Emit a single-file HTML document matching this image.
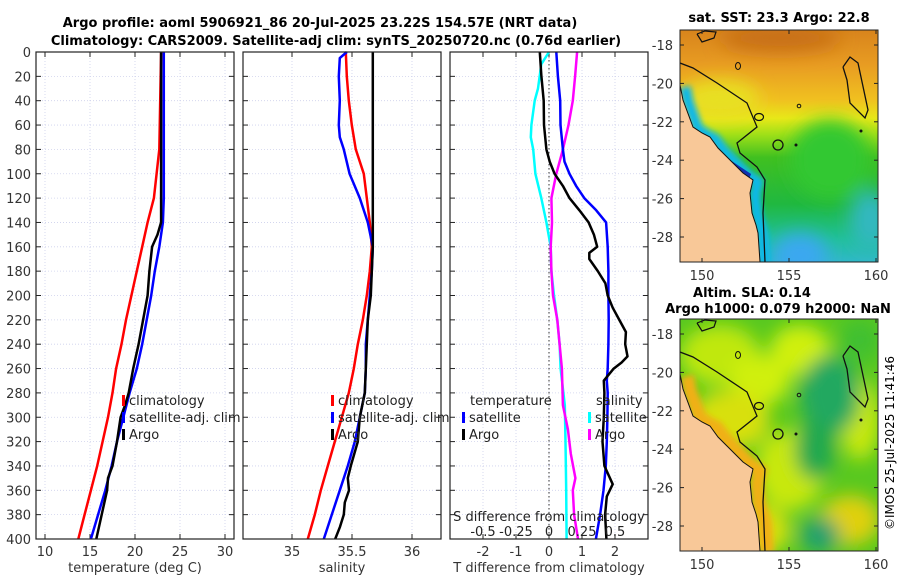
<!DOCTYPE html>
<html><head><meta charset="utf-8"><style>
body{margin:0;background:#fff;}
svg{display:block;font-family:"DejaVu Sans","Liberation Sans",sans-serif;}
</style></head><body>
<svg id="chart" width="900" height="580" viewBox="0 0 900 580" xmlns="http://www.w3.org/2000/svg">
<defs>
<filter id="blur" x="-50%" y="-50%" width="200%" height="200%"><feGaussianBlur stdDeviation="9"/></filter>
<filter id="blur2" x="-50%" y="-50%" width="200%" height="200%"><feGaussianBlur stdDeviation="3"/></filter>
<clipPath id="clipTop"><rect x="680" y="30" width="198" height="232"/></clipPath>
<clipPath id="clipBot"><rect x="680" y="319" width="198" height="232"/></clipPath>
<linearGradient id="sstGrad" x1="0" y1="30" x2="0" y2="262" gradientUnits="userSpaceOnUse">
<stop offset="0" stop-color="#d8841c"/><stop offset="0.15" stop-color="#e89c22"/><stop offset="0.3" stop-color="#f0c020"/>
<stop offset="0.38" stop-color="#e8e818"/><stop offset="0.45" stop-color="#a0e018"/><stop offset="0.55" stop-color="#40c020"/>
<stop offset="0.75" stop-color="#20b840"/><stop offset="0.9" stop-color="#20c098"/><stop offset="1" stop-color="#30b8c8"/>
</linearGradient>
</defs>
<text x="320" y="27" font-size="13" font-weight="bold" text-anchor="middle">Argo profile: aoml 5906921_86 20-Jul-2025 23.22S 154.57E (NRT data)</text>
<text x="336" y="45" font-size="13" font-weight="bold" text-anchor="middle">Climatology: CARS2009. Satellite-adj clim: synTS_20250720.nc (0.76d earlier)</text>
<g id="panels"></g>
<g id="maps"></g>
<text transform="translate(894,443) rotate(-90)" font-size="12" text-anchor="middle">©IMOS 25-Jul-2025 11:41:46</text>
</svg>
<script>
// ---- data ----
const depthTicks = [0,20,40,60,80,100,120,140,160,180,200,220,240,260,280,300,320,340,360,380,400];
const tempTicks = [10,15,20,25,30];
const salTicks = [35,35.5,36];
const salTickLabels = ["35","35.5","36"];
const dTTicks = [-2,-1,0,1,2];
const dSTicks = [-0.5,-0.25,0,0.25,0.5];
const dSTickLabels = ["-0.5","-0.25","0","0.25","0.5"];

const tClimDepth = [0,80,100,120,140,160,180,200,220,240,260,280,300,320,340,360,380,400];
const tClim = [22.9,22.7,22.4,22.1,21.4,20.8,20.2,19.6,19.0,18.5,17.9,17.5,17.0,16.4,15.8,15.1,14.4,13.7];
const tSatDepth = [0,120,140,160,180,200,220,240,260,280,300,320,340,360,380,400];
const tSat = [23.2,23.2,23.1,22.7,22.2,21.8,21.3,20.8,20.2,19.4,18.7,18.0,17.4,16.7,15.9,15.1];
const tArgoDepth = [0,140,150,160,180,200,220,240,260,280,290,300,320,340,350,360,380,400];
const tArgo = [22.9,22.9,22.5,21.9,21.6,21.4,20.9,20.4,19.8,19.3,18.9,18.4,18.0,17.5,17.0,16.9,16.3,15.7];

const sClimDepth = [0,20,40,60,80,100,120,140,160,180,200,220,240,260,280,300,320,340,360,380,400];
const sClim = [35.448,35.457,35.473,35.498,35.532,35.598,35.623,35.648,35.665,35.648,35.623,35.59,35.548,35.515,35.473,35.415,35.357,35.298,35.24,35.19,35.132];
const sSatDepth = [0,5,20,40,60,70,80,100,120,140,160,180,200,220,240,260,280,300,320,340,360,380,400];
const sSat = [35.457,35.398,35.39,35.398,35.39,35.398,35.432,35.48,35.565,35.632,35.673,35.665,35.648,35.632,35.615,35.615,35.607,35.565,35.523,35.465,35.398,35.332,35.265];
const sArgoDepth = [0,140,160,180,200,220,240,260,280,300,320,340,350,360,370,380,390,400];
const sArgo = [35.673,35.673,35.673,35.665,35.657,35.632,35.623,35.615,35.607,35.565,35.548,35.49,35.465,35.475,35.44,35.432,35.4,35.36];

const dTSatDepth = [0,20,40,60,80,90,100,110,120,130,140,160,180,200,220,240,260,270,280,300,320,340,360,380,400];
const dTSat = [0.22,0.27,0.34,0.35,0.42,0.47,0.62,0.82,1.07,1.43,1.73,1.78,1.8,1.8,1.81,1.8,1.78,1.75,1.78,1.77,1.75,1.72,1.65,1.55,1.42];
const dTArgoDepth = [0,20,40,60,80,90,100,110,120,130,140,150,160,165,170,180,190,200,210,220,230,240,250,255,260,270,280,300,320,340,355,365,380,400];
const dTArgo = [-0.28,-0.23,-0.16,-0.15,-0.08,0.02,0.17,0.42,0.62,0.92,1.2,1.36,1.46,1.22,1.22,1.48,1.71,1.78,1.93,2.13,2.33,2.31,2.38,2.2,1.96,1.66,1.68,1.66,1.62,1.68,1.93,1.75,1.7,1.74];
const dSSatDepth = [0,10,30,40,60,70,80,100,120,140,160,180,200,220,240,260,290,320,360,400];
const dSSat = [0,-0.058,-0.083,-0.108,-0.133,-0.138,-0.12,-0.103,-0.058,-0.02,0.013,0.018,0.038,0.063,0.08,0.088,0.12,0.125,0.13,0.133];
const dSArgoDepth = [0,20,40,60,80,100,120,140,160,180,200,220,240,260,290,310,330,350,360,380,400];
const dSArgo = [0.213,0.198,0.18,0.148,0.105,0.055,0.018,0.023,0.013,0.018,0.03,0.063,0.08,0.098,0.105,0.143,0.165,0.2,0.18,0.19,0.22];

const latTicks = [-18,-20,-22,-24,-26,-28];
const lonTicks = [150,155,160];

// ---- helpers ----
const NS = "http://www.w3.org/2000/svg";
const svg = document.getElementById('chart');
const gP = document.getElementById('panels');
const gM = document.getElementById('maps');
function mk(tag, attrs, parent){const e=document.createElementNS(NS,tag);for(const k in attrs)e.setAttribute(k,attrs[k]);(parent||gP).appendChild(e);return e;}
const Y0=52, Y1=539;
const yScale = d => Y0 + d*(Y1-Y0)/400;
function xs(x0,x1,v0,v1){return v=> x0+(v-v0)*(x1-x0)/(v1-v0);}

const panels = [
 {name:'temperature-panel', x0:36, x1:234, sx:xs(36,234,9,31), ticks:tempTicks, labels:tempTicks.map(String), xlabel:'temperature (deg C)', ylab:true},
 {name:'salinity-panel', x0:243, x1:441, sx:xs(243,441,34.5917,36.2417), ticks:salTicks, labels:salTickLabels, xlabel:'salinity'},
 {name:'difference-panel', x0:450, x1:648, sx:xs(450,648,-3,3), ticks:dTTicks, labels:dTTicks.map(String), xlabel:'T difference from climatology'}
];
panels.forEach(p=>{
  const g = mk('g',{});  
  p.g=g;
  depthTicks.forEach(d=>{ if(d>0&&d<400){ const l=mk('line',{x1:p.x0,x2:p.x1,y1:yScale(d),y2:yScale(d),stroke:'#cdd0ec','stroke-width':0.8,'stroke-dasharray':'1,2'},g);  }
    mk('line',{x1:p.x0,x2:p.x0+5,y1:yScale(d),y2:yScale(d),stroke:'#222'},g);
    mk('line',{x1:p.x1-5,x2:p.x1,y1:yScale(d),y2:yScale(d),stroke:'#222'},g);
    if(p.ylab){const t=mk('text',{x:p.x0-5,y:yScale(d)+5,'font-size':13,'text-anchor':'end',fill:'#333'},g);t.textContent=d;}
  });
  p.ticks.forEach((v,i)=>{const x=p.sx(v);
    const l=mk('line',{x1:x,x2:x,y1:Y0,y2:Y1,stroke:'#cdd0ec','stroke-width':0.8,'stroke-dasharray':'1,2'},g);
     
    mk('line',{x1:x,x2:x,y1:Y1-5,y2:Y1,stroke:'#222'},g);
    mk('line',{x1:x,x2:x,y1:Y0,y2:Y0+5,stroke:'#222'},g);
    const t=mk('text',{x:x,y:556,'font-size':13,'text-anchor':'middle',fill:'#333'},g);t.textContent=p.labels[i];
     
  });
  const xl=mk('text',{x:(p.x0+p.x1)/2,y:572,'font-size':13,'text-anchor':'middle',fill:'#333'},g); xl.textContent=p.xlabel;
   
});
function line(g,sx,depths,vals,color,name,w){
  const pts=vals.map((v,i)=>sx(v).toFixed(1)+','+yScale(depths[i]).toFixed(1)).join(' ');
  const l=mk('polyline',{points:pts,fill:'none',stroke:color,'stroke-width':w||2.5,'stroke-linejoin':'round'},g);
   
}
const P1=panels[0],P2=panels[1],P3=panels[2];
line(P1.g,P1.sx,tClimDepth,tClim,'#ff0000','temp-climatology-line');
line(P1.g,P1.sx,tSatDepth,tSat,'#0000ff','temp-satellite-adj-line');
line(P1.g,P1.sx,tArgoDepth,tArgo,'#000','temp-argo-line');
line(P2.g,P2.sx,sClimDepth,sClim,'#ff0000','sal-climatology-line');
line(P2.g,P2.sx,sSatDepth,sSat,'#0000ff','sal-satellite-adj-line');
line(P2.g,P2.sx,sArgoDepth,sArgo,'#000','sal-argo-line');
const z=mk('line',{x1:P3.sx(0),x2:P3.sx(0),y1:Y0,y2:Y1,stroke:'#555','stroke-width':1.2,'stroke-dasharray':'1.5,2.5'},P3.g);
 
const sxS = xs(450,648,-0.75,0.75);
line(P3.g,sxS,dSSatDepth,dSSat,'#00ffff','sal-diff-satellite-line');
line(P3.g,sxS,dSArgoDepth,dSArgo,'#ff00ff','sal-diff-argo-line');
line(P3.g,P3.sx,dTSatDepth,dTSat,'#0000ff','temp-diff-satellite-line');
line(P3.g,P3.sx,dTArgoDepth,dTArgo,'#000','temp-diff-argo-line');
const sat=mk('text',{x:549,y:521,'font-size':13,'text-anchor':'middle',fill:'#222'},P3.g); sat.textContent='S difference from climatology';
 
dSTicks.forEach((v,i)=>{const t=mk('text',{x:sxS(v),y:536,'font-size':13,'text-anchor':'middle',fill:'#222'},P3.g);t.textContent=dSTickLabels[i];
  });
panels.forEach(p=>{const r=mk('rect',{x:p.x0,y:Y0,width:p.x1-p.x0,height:Y1-Y0,fill:'none',stroke:'#222','stroke-width':1.2},p.g);
  });
function legend(g,x,y,color,label){
  const m=mk('rect',{x:x,y:y-10,width:3,height:11,fill:color},g);  
  const t=mk('text',{x:x+7,y:y,'font-size':13,fill:'#222'},g); t.textContent=label;  
}
legend(P1.g,122,405,'#ff0000','climatology');
legend(P1.g,122,422,'#0000ff','satellite-adj. clim');
legend(P1.g,122,439,'#000','Argo');
legend(P2.g,331,405,'#ff0000','climatology');
legend(P2.g,331,422,'#0000ff','satellite-adj. clim');
legend(P2.g,331,439,'#000','Argo');
const th=mk('text',{x:470,y:405,'font-size':13,fill:'#222'},P3.g);th.textContent='temperature';
const sh=mk('text',{x:596,y:405,'font-size':13,fill:'#222'},P3.g);sh.textContent='salinity';
legend(P3.g,462,422,'#0000ff','satellite');
legend(P3.g,462,439,'#000','Argo');
legend(P3.g,588,422,'#00ffff','satellite');
legend(P3.g,588,439,'#ff00ff','Argo');

// ---- maps ----
const coast=[[680,85],[683,100],[693,127],[702,133],[710,137],[718,148],[727,157],[735,165],[743,173],[753,180],[750,193],[752,213],[756,225],[758,233],[760,262]];
const contour=[[680,63],[693,68],[717,83],[747,103],[757,127],[737,143],[740,153],[757,167],[765,180],[763,213],[765,262]];
const contour2=[[843,67],[850,57],[858,63],[868,110],[865,118],[850,103],[847,80],[843,67]];
const contour3=[[697,34],[705,31],[716,32],[714,38],[702,42],[697,34]];
function mapAxes(g,top){
  const lat = v => top + 15 + (-18 - v)*19.2;
  const lon = v => 702 + (v-150)*17.4;
  latTicks.forEach(v=>{const y=lat(v);
    mk('line',{x1:680,x2:684,y1:y,y2:y,stroke:'#222'},g); mk('line',{x1:874,x2:878,y1:y,y2:y,stroke:'#222'},g);
    const t=mk('text',{x:673,y:y+5,'font-size':13,'text-anchor':'end',fill:'#333'},g);t.textContent=v;
     });
  lonTicks.forEach(v=>{const x=lon(v);
    mk('line',{x1:x,x2:x,y1:top+228,y2:top+232,stroke:'#222'},g); mk('line',{x1:x,x2:x,y1:top,y2:top+4,stroke:'#222'},g);
    const t=mk('text',{x:x,y:top+250,'font-size':13,'text-anchor':'middle',fill:'#333'},g);t.textContent=v;
     });
}
function shift(pts,dy){return pts.map(p=>p[0]+','+(p[1]+dy)).join(' ');}
function drawMap(top,kind){
  const dy=top-30;
  const g=mk('g',{},gM);  
  const inner=mk('g',{'clip-path':'url(#'+(kind==='sst'?'clipTop':'clipBot')+')'},g);
  if(kind==='sst'){
    mk('rect',{x:680,y:30,width:198,height:232,fill:'url(#sstGrad)'},inner);
    const bl=mk('g',{filter:'url(#blur)'},inner);
    mk('ellipse',{cx:780,cy:38,rx:60,ry:14,fill:'#c87018'},bl);
    mk('ellipse',{cx:720,cy:100,rx:40,ry:20,fill:'#e8e020'},bl);
    mk('ellipse',{cx:830,cy:160,rx:40,ry:40,fill:'#30c830'},bl);
    mk('ellipse',{cx:800,cy:255,rx:28,ry:22,fill:'#3aa8f0'},bl);
    mk('ellipse',{cx:870,cy:220,rx:20,ry:30,fill:'#30b8c0'},bl);
    mk('polyline',{points:coast.map(p=>(p[0]+5)+','+(p[1]+2)).join(' '),fill:'none',stroke:'#10b8e8','stroke-width':11,filter:'url(#blur2)'},inner);
    mk('polyline',{points:'712,150 730,163 748,175 746,180',fill:'none',stroke:'#1030b0','stroke-width':5},inner);
  } else {
    mk('rect',{x:680,y:319,width:198,height:232,fill:'#58c820'},inner);
    const bl=mk('g',{filter:'url(#blur)'},inner);
    [[720,355,40,30,'#c0e810'],[760,380,30,25,'#d0f010'],[730,420,40,30,'#d8e010'],[790,470,35,40,'#c8e810'],[860,420,20,40,'#c8e810'],
     [850,520,30,25,'#e0d010'],[760,530,30,25,'#d8e010'],[800,350,30,25,'#d0f010'],[830,395,30,40,'#20a860'],[815,450,20,30,'#20a850'],[820,535,20,18,'#20a070'],[860,340,20,20,'#40c030']]
     .forEach(e=>mk('ellipse',{cx:e[0],cy:e[1],rx:e[2],ry:e[3],fill:e[4]},bl));
    mk('polyline',{points:coast.map(p=>(p[0]+7)+','+(p[1]+dy+2)).join(' '),fill:'none',stroke:'#f0b018','stroke-width':14,filter:'url(#blur2)'},inner);
  }
  const land=mk('polygon',{points:shift(coast,dy)+' 680,'+(262+dy),fill:'#f8c898'},inner);
   
  mk('polyline',{points:shift(coast,dy),fill:'none',stroke:'#111','stroke-width':1},inner);
  mk('polyline',{points:shift(contour,dy),fill:'none',stroke:'#111','stroke-width':1.3},inner);
  mk('polyline',{points:shift(contour2,dy),fill:'none',stroke:'#111','stroke-width':1.3},inner);
  mk('polyline',{points:shift(contour3,dy),fill:'none',stroke:'#111','stroke-width':1.2},inner);
  const c=mk('circle',{cx:778,cy:145+dy,r:5,fill:'none',stroke:'#111','stroke-width':1.3},inner);
   
  mk('circle',{cx:796,cy:145+dy,r:1.5,fill:'#111'},inner);
  mk('ellipse',{cx:738,cy:66+dy,rx:2.5,ry:3.5,fill:'none',stroke:'#111'},inner);
  mk('ellipse',{cx:759,cy:117+dy,rx:4.5,ry:3.5,fill:'none',stroke:'#111','stroke-width':1.2},inner);
  mk('circle',{cx:799,cy:106+dy,r:1.8,fill:'none',stroke:'#111'},inner);
  mk('circle',{cx:861,cy:131+dy,r:1.5,fill:'#111'},inner);
  mk('rect',{x:680,y:top,width:198,height:232,fill:'none',stroke:'#222','stroke-width':1},g);
  mapAxes(g,top);
}
drawMap(30,'sst');
drawMap(319,'sla');
function tt(x,y,s,name){const t=mk('text',{x:x,y:y,'font-size':13,'font-weight':'bold','text-anchor':'middle'},gM);t.textContent=s;}
tt(779,22,'sat. SST: 23.3 Argo: 22.8','sst-map-title');
tt(752,297,'Altim. SLA: 0.14','sla-map-title');
tt(778,313,'Argo h1000: 0.079 h2000: NaN','sla-map-subtitle');
</script>
</body></html>
